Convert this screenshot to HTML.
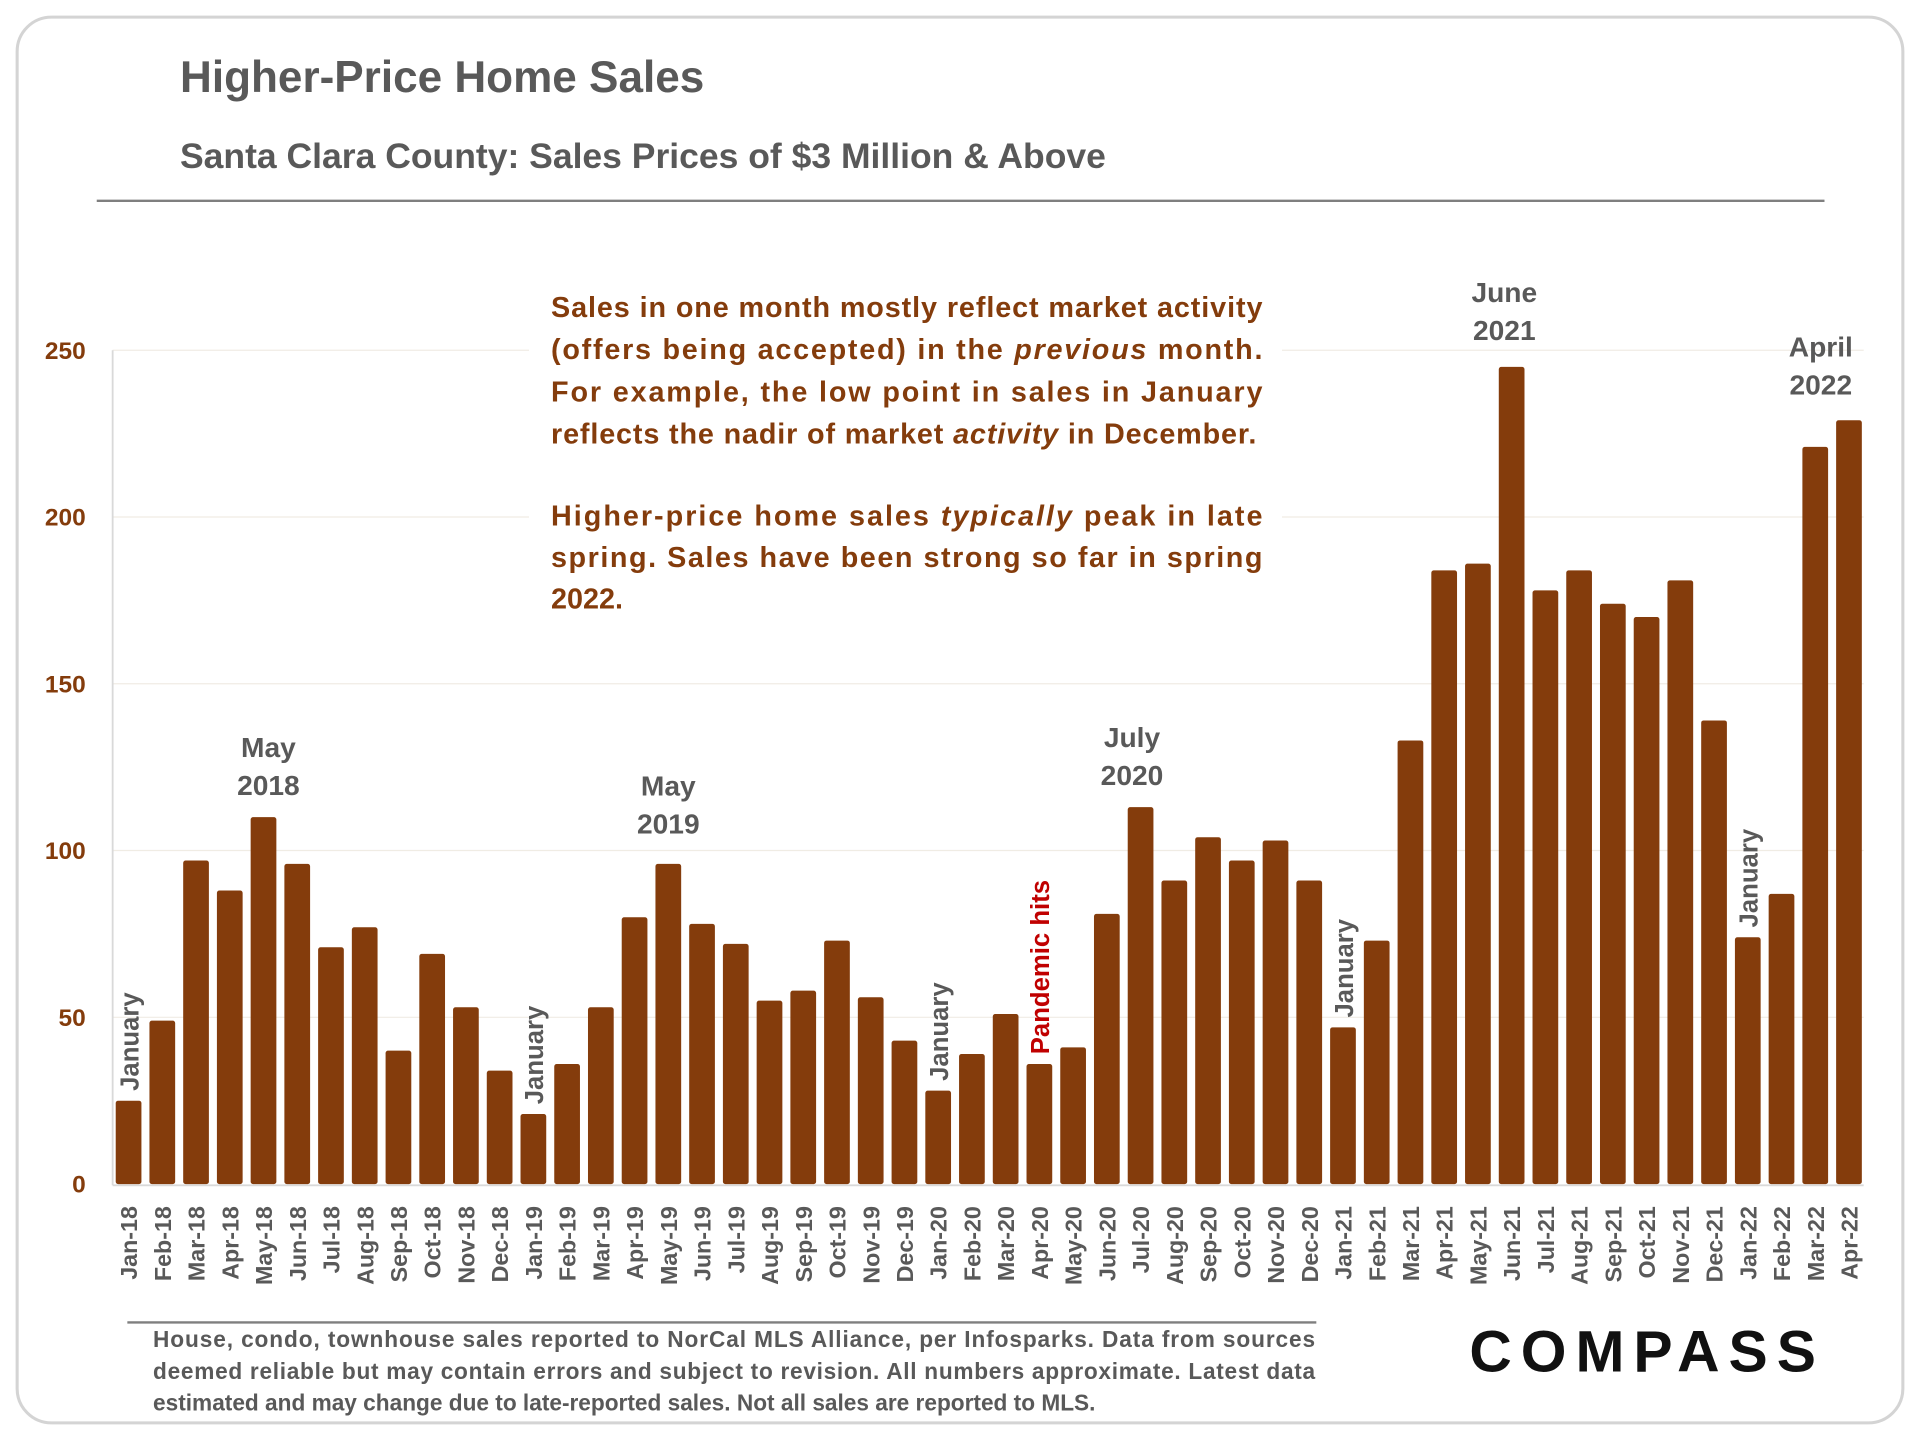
<!DOCTYPE html>
<html><head><meta charset="utf-8"><style>
html,body{margin:0;padding:0;background:#fff;}
svg{display:block;font-family:"Liberation Sans",sans-serif;}
</style></head><body>
<svg id="chart" width="1920" height="1440" viewBox="0 0 1568 1176">
<rect x="14" y="14" width="1540" height="1148" rx="28" fill="#fff" stroke="#d4d4d4" stroke-width="2.5"/>
<text x="147" y="75" font-size="36" font-weight="bold" fill="#595959">Higher-Price Home Sales</text>
<text x="147" y="137" font-size="29" font-weight="bold" fill="#595959">Santa Clara County: Sales Prices of $3 Million &amp; Above</text>
<line x1="79" y1="164" x2="1490" y2="164" stroke="#7f7f7f" stroke-width="2"/>
<g id="grid"></g>
<g id="bars"></g>
<g id="xlabels"></g>
<g id="ylabels"></g>
<g font-size="23.5" font-weight="bold" fill="#843c0c">
<rect x="432" y="225" width="615" height="285" fill="#fff"/>
<text x="450" y="259" textLength="581" lengthAdjust="spacing">Sales in one month mostly reflect market activity</text>
<text x="450" y="293" textLength="581" lengthAdjust="spacing">(offers being accepted) in the <tspan font-style="italic">previous</tspan> month.</text>
<text x="450" y="328" textLength="581" lengthAdjust="spacing">For example, the low point in sales in January</text>
<text x="450" y="362" textLength="576" lengthAdjust="spacing">reflects the nadir of market <tspan font-style="italic">activity</tspan> in December.</text>
<text x="450" y="429" textLength="581" lengthAdjust="spacing">Higher-price home sales <tspan font-style="italic">typically</tspan> peak in late</text>
<text x="450" y="463" textLength="581" lengthAdjust="spacing">spring. Sales have been strong so far in spring</text>
<text x="450" y="497">2022.</text>
</g>
<g id="callouts" font-size="23" font-weight="bold" fill="#595959" text-anchor="middle"></g>
<line x1="104" y1="1080" x2="1075" y2="1080" stroke="#7f7f7f" stroke-width="2"/>
<g font-size="18.5" font-weight="bold" fill="#595959">
<text x="125" y="1100" textLength="949" lengthAdjust="spacing">House, condo, townhouse sales reported to NorCal MLS Alliance, per Infosparks. Data from sources</text>
<text x="125" y="1126" textLength="949" lengthAdjust="spacing">deemed reliable but may contain errors and subject to revision. All numbers approximate. Latest data</text>
<text x="125" y="1152">estimated and may change due to late-reported sales. Not all sales are reported to MLS.</text>
</g>
<text x="1200" y="1120" font-size="48" font-weight="bold" fill="#111" textLength="283" lengthAdjust="spacing">COMPASS</text>
<script>
const categories=["Jan-18","Feb-18","Mar-18","Apr-18","May-18","Jun-18","Jul-18","Aug-18","Sep-18","Oct-18","Nov-18","Dec-18","Jan-19","Feb-19","Mar-19","Apr-19","May-19","Jun-19","Jul-19","Aug-19","Sep-19","Oct-19","Nov-19","Dec-19","Jan-20","Feb-20","Mar-20","Apr-20","May-20","Jun-20","Jul-20","Aug-20","Sep-20","Oct-20","Nov-20","Dec-20","Jan-21","Feb-21","Mar-21","Apr-21","May-21","Jun-21","Jul-21","Aug-21","Sep-21","Oct-21","Nov-21","Dec-21","Jan-22","Feb-22","Mar-22","Apr-22"];
const sales=[25,49,97,88,110,96,71,77,40,69,53,34,21,36,53,80,96,78,72,55,58,73,56,43,28,39,51,36,41,81,113,91,104,97,103,91,47,73,133,184,186,245,178,184,174,170,181,139,74,87,221,229];
const yTicks=[0,50,100,150,200,250];
const NS="http://www.w3.org/2000/svg";
const y0=967,yTop=286,yMax=250;
function yScale(v){return y0-(v/yMax)*(y0-yTop);}
const firstX=105,lastX=1510;
function xScale(i){return firstX+i*(lastX-firstX)/(categories.length-1);}
const bw=21;
function mk(tag,attrs,parent){const e=document.createElementNS(NS,tag);for(const k in attrs)e.setAttribute(k,attrs[k]);parent.appendChild(e);return e;}
const grid=document.getElementById('grid'),bars=document.getElementById('bars'),xl=document.getElementById('xlabels'),yl=document.getElementById('ylabels');
yTicks.forEach(t=>{
  if(t>0){const l=mk('line',{x1:92,x2:1522,y1:yScale(t),y2:yScale(t),stroke:'#f0ece4','stroke-width':1},grid);
  
  }
  const tx=mk('text',{x:70,y:yScale(t)+7,'text-anchor':'end','font-size':20,'font-weight':'bold',fill:'#843c0c'},yl);
  tx.textContent=t;
  
  
});
const ax=mk('line',{x1:92,x2:92,y1:286,y2:968,stroke:'#d9d9d9','stroke-width':1.5},grid);


const bx=mk('line',{x1:92,x2:1522,y1:968,y2:968,stroke:'#d9d9d9','stroke-width':1.5},grid);


sales.forEach((v,i)=>{
  const r=mk('rect',{x:xScale(i)-bw/2,y:yScale(v),width:bw,height:y0-yScale(v),rx:2,fill:'#843c0c'},bars);
  
  
  const t=mk('text',{x:0,y:0,transform:`translate(${xScale(i)+7},985) rotate(-90)`,'text-anchor':'end','font-size':19,'font-weight':'bold',fill:'#595959'},xl);
  t.textContent=categories[i];
  
  
});
const co=document.getElementById('callouts');
function callout(idx,lines,dy,name,dx){
  const x=xScale(idx)+(dx||0),top=yScale(sales[idx]);
  lines.forEach((s,k)=>{
    const t=mk('text',{x:x,y:top-dy+k*31},co);
    t.textContent=s;
    
    
  });
}
callout(4,["May","2018"],49,'callout-may-2018',4);
callout(16,["May","2019"],56,'callout-may-2019');
callout(30,["July","2020"],49,'callout-july-2020',-7);
callout(41,["June","2021"],53,'callout-june-2021',-6);
callout(51,["April","2022"],52,'callout-april-2022',-23);
function vlabel(idx,text,color,name){
  const x=xScale(idx)+8,top=yScale(sales[idx])-8;
  const t=mk('text',{transform:`translate(${x},${top}) rotate(-90)`,'font-size':21,'font-weight':'bold',fill:color,'text-anchor':'start'},co);
  t.textContent=text;
  
  
}
vlabel(0,"January","#595959",'label-january-2018');
vlabel(12,"January","#595959",'label-january-2019');
vlabel(24,"January","#595959",'label-january-2020');
vlabel(36,"January","#595959",'label-january-2021');
vlabel(48,"January","#595959",'label-january-2022');
vlabel(27,"Pandemic hits","#c00000",'label-pandemic-hits');
</script>
</svg>
</body></html>
